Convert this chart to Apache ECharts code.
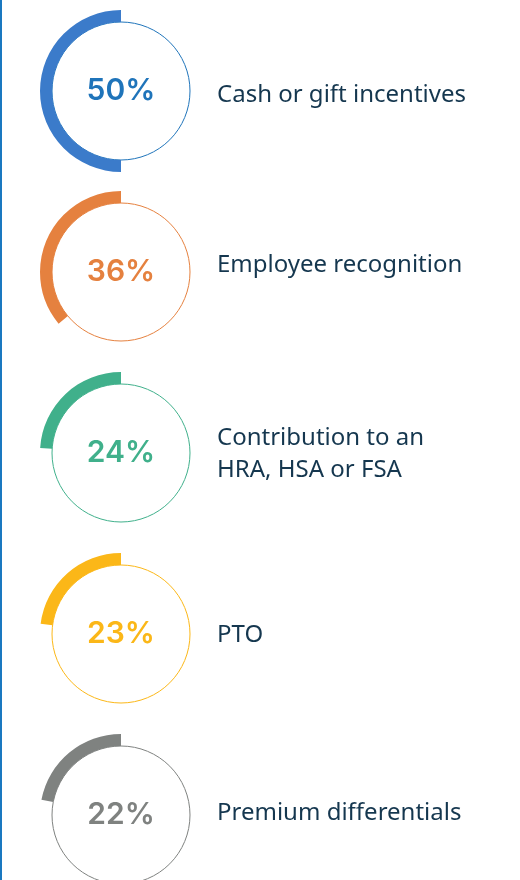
<!DOCTYPE html>
<html>
<head>
<meta charset="utf-8">
<script src="https://cdn.jsdelivr.net/npm/echarts@6/dist/echarts.min.js"></script>
<style>
html,body{margin:0;padding:0;background:#fff;}
#chart{width:520px;height:880px;}
</style>
</head>
<body>
<div id="chart"></div>
<script>
var categories = ["Cash or gift incentives", "Employee recognition", "Contribution to an\nHRA, HSA or FSA", "PTO", "Premium differentials"];
var percents = [50, 36, 24, 23, 22];
var colors = ["#3b7bca", "#e5813f", "#40b08b", "#fbb718", "#7f8280"];
var textColors = ["#1f74ba", "#e5813f", "#40b08b", "#fbb718", "#7f8280"];

// layout (pixel positions)
var ringCenters = [91, 272, 453, 634, 815];
var labelCenters = [94, 264, 453, 634, 812];

var chart = echarts.init(document.getElementById('chart'), null, {renderer: 'canvas'});
var cx = 121, rIn = 69, rOut = 81;
var series = [], titles = [];
percents.forEach(function (p, i) {
  var cy = ringCenters[i];
  series.push({
    type: 'pie', silent: true, animation: false,
    center: [cx, cy], radius: [0, rIn],
    itemStyle: {color: '#ffffff', borderColor: textColors[i], borderWidth: 1},
    label: {show: true, position: 'center', formatter: p + '%',
      fontFamily: 'Inter', fontWeight: 600, fontSize: 30, color: textColors[i]},
    labelLine: {show: false},
    emphasis: {disabled: true},
    data: [{value: 1, name: categories[i]}]
  });
  series.push({
    type: 'pie', silent: true, animation: false,
    center: [cx, cy], radius: [rIn, rOut],
    startAngle: 90, clockwise: false,
    label: {show: false}, labelLine: {show: false},
    emphasis: {disabled: true},
    data: [
      {value: p, itemStyle: {color: colors[i]}},
      {value: 100 - p, itemStyle: {color: 'rgba(0,0,0,0)'}}
    ]
  });
  titles.push({
    text: categories[i], left: 217, top: labelCenters[i] + 1, textVerticalAlign: 'middle', padding: 0,
    textStyle: {fontFamily: 'Noto Sans', fontWeight: 400, fontSize: 24, color: '#15374f', lineHeight: 32}
  });
});

chart.setOption({
  animation: false,
  title: titles,
  graphic: [{type: 'rect', left: 0, top: 0, shape: {width: 2, height: 880}, style: {fill: '#1a78c0'}}],
  series: series
});
</script>
</body>
</html>
